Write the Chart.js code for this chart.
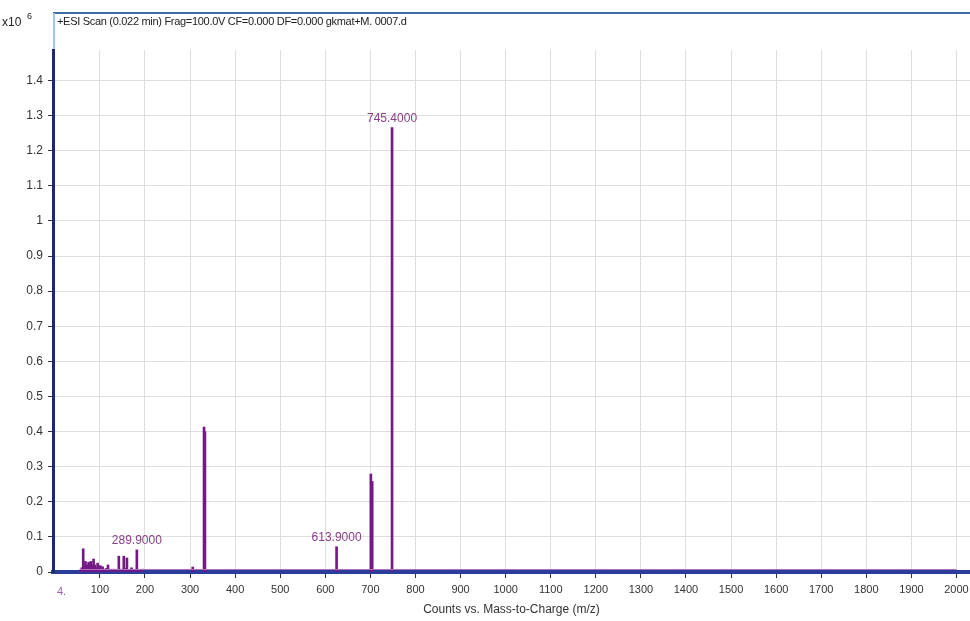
<!DOCTYPE html>
<html>
<head>
<meta charset="utf-8">
<title>ESI Scan</title>
<script src="https://cdn.jsdelivr.net/npm/chart.js@4"></script>
<style>
    body { margin: 0; background: #fff; }
    #wrap { width: 970px; height: 621px; }
</style>
</head>
<body>
<div id="wrap"><canvas id="spectrum" width="970" height="621"></canvas></div>
<script>
// peak list, intensities in units of 10^6 counts
const peakMz = [57, 60, 63, 66, 68, 72, 75, 78, 80, 83, 86, 89, 92, 95, 98, 101, 106, 110, 114, 118,
    125, 130, 136, 142, 148, 153, 157, 160, 165, 170, 176, 182, 188, 195, 306, 331, 333, 625, 701, 704, 748];
const peakIntensity = [0.006, 0.012, 0.066, 0.015, 0.03, 0.02, 0.028, 0.022, 0.03, 0.018, 0.037, 0.02,
    0.012, 0.025, 0.01, 0.018, 0.015, 0.008, 0.01, 0.02, 0.006, 0.008, 0.005, 0.045, 0.008, 0.045, 0.01,
    0.04, 0.006, 0.012, 0.005, 0.063, 0.005, 0.008, 0.014, 0.413, 0.4, 0.072, 0.279, 0.258, 1.266];

// labelled peaks
const annotMz = [182, 625, 748];
const annotText = ['289.9000', '613.9000', '745.4000'];

const scanTitle = '+ESI Scan (0.022 min) Frag=100.0V CF=0.000 DF=0.000 gkmat+M. 0007.d';
const xTitle = 'Counts vs. Mass-to-Charge (m/z)';

const FONT = '"Liberation Sans", Arial, sans-serif';

const spectrumData = peakMz.map((mz, i) => ({ x: mz, y: peakIntensity[i] }));

const decorPlugin = {
    id: 'decor',
    beforeDraw(chart) {
        const ctx = chart.ctx;
        const area = chart.chartArea;
        ctx.save();
        // frame of the plot window
        ctx.strokeStyle = '#3d6ea8';
        ctx.lineWidth = 2;
        ctx.beginPath();
        ctx.moveTo(area.left, 13);
        ctx.lineTo(chart.width, 13);
        ctx.stroke();
        ctx.strokeStyle = '#9cc4ea';
        ctx.beginPath();
        ctx.moveTo(area.left + 1, 13);
        ctx.lineTo(area.left + 1, area.top);
        ctx.stroke();

        ctx.fillStyle = '#222';
        ctx.font = '11px ' + FONT;
        ctx.textBaseline = 'middle';
        ctx.textAlign = 'left';
        ctx.letterSpacing = '-0.3px';
        ctx.fillText(scanTitle, area.left + 4, 22);
        ctx.letterSpacing = '0px';
        ctx.font = '12px ' + FONT;
        ctx.fillText('x10', 2, 23);
        ctx.font = '9px ' + FONT;
        ctx.fillText('6', 27, 17);
        ctx.restore();
    },
    afterDatasetsDraw(chart) {
        const ctx = chart.ctx;
        const xs = chart.scales.x;
        const ys = chart.scales.y;
        ctx.save();
        // purple baseline of the trace
        ctx.strokeStyle = '#b070c0';
        ctx.lineWidth = 1;
        ctx.beginPath();
        ctx.moveTo(xs.getPixelForValue(peakMz[0]), ys.getPixelForValue(0) - 2.5);
        ctx.lineTo(xs.getPixelForValue(2000), ys.getPixelForValue(0) - 2.5);
        ctx.stroke();

        ctx.fillStyle = '#8a3c8a';
        ctx.font = '12px ' + FONT;
        ctx.textAlign = 'center';
        ctx.textBaseline = 'bottom';
        annotMz.forEach((mz, i) => {
            const idx = peakMz.indexOf(mz);
            const px = xs.getPixelForValue(mz);
            const py = ys.getPixelForValue(peakIntensity[idx]);
            ctx.fillText(annotText[i], px, py - 3);
        });
        ctx.font = '11px ' + FONT;
        ctx.textAlign = 'left';
        ctx.textBaseline = 'middle';
        ctx.fillStyle = '#a060b0';
        ctx.fillText('4.', chart.chartArea.left + 4, 592);
        ctx.restore();
    }
};

new Chart(document.getElementById('spectrum').getContext('2d'), {
    type: 'bar',
    data: {
        datasets: [{
            label: 'Spectrum',
            data: spectrumData,
            backgroundColor: '#741886',
            borderWidth: 0,
            barThickness: 2
        }]
    },
    options: {
        responsive: false,
        animation: false,
        layout: { padding: { top: 50, right: 0, left: 0, bottom: 0 } },
        plugins: {
            legend: { display: false },
            tooltip: { enabled: false }
        },
        scales: {
            x: {
                type: 'linear',
                offset: false,
                min: -4,
                max: 2030,
                afterFit(scale) {
                    scale.height = 49;
                    scale.paddingRight = 0;
                    scale.paddingLeft = 0;
                },
                afterBuildTicks(scale) {
                    scale.ticks = scale.ticks.filter(t => t.value >= 100 && t.value <= 2000);
                },
                ticks: {
                    stepSize: 100,
                    includeBounds: false,
                    color: '#333',
                    padding: 5,
                    maxRotation: 0,
                    autoSkip: false,
                    font: { size: 11, family: FONT },
                    callback: v => String(v)
                },
                grid: {
                    offset: false,
                    color: '#dedede',
                    tickColor: '#333',
                    tickLength: 6
                },
                border: { color: '#2a3d9a', width: 4 },
                title: {
                    display: true,
                    text: xTitle,
                    color: '#333',
                    padding: { top: 0 },
                    font: { size: 12, family: FONT }
                }
            },
            y: {
                min: 0,
                max: 1.487,
                afterFit(scale) { scale.width = 53; },
                afterBuildTicks(scale) {
                    scale.ticks = scale.ticks.filter(t => Math.abs(t.value * 10 - Math.round(t.value * 10)) < 1e-6);
                },
                ticks: {
                    stepSize: 0.1,
                    includeBounds: false,
                    color: '#333',
                    padding: 5,
                    font: { size: 12, family: FONT },
                    callback: v => String(+v.toFixed(1))
                },
                grid: {
                    color: '#dedede',
                    tickColor: '#333',
                    tickLength: 5
                },
                border: { color: '#1c2a6e', width: 3 }
            }
        }
    },
    plugins: [decorPlugin]
});
</script>
</body>
</html>
